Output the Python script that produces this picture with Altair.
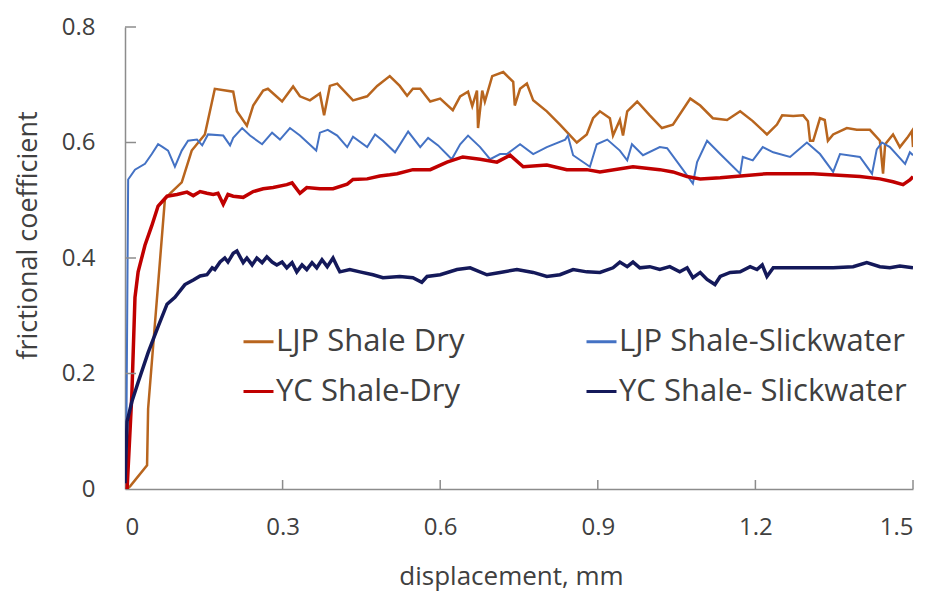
import altair as alt
import pandas as pd

# ---------------- data ----------------
series_names = ["LJP Shale Dry", "LJP Shale-Slickwater", "YC Shale-Dry", "YC Shale- Slickwater"]
series_colors = ["#B8651E", "#4472C4", "#C00000", "#14195A"]
series_widths = [2.5, 2.0, 3.5, 3.5]
# legend is filled column by column: first column holds the two "Dry" entries
legend_order = [0, 2, 1, 3]

ljp_dry_x = [0.004, 0.010, 0.042, 0.044, 0.076, 0.086, 0.108, 0.127, 0.152, 0.171,
             0.206, 0.213, 0.232, 0.244, 0.263, 0.272, 0.299, 0.320, 0.333, 0.352,
             0.371, 0.379, 0.390, 0.404, 0.434, 0.461, 0.480, 0.504, 0.523, 0.537,
             0.548, 0.562, 0.581, 0.600, 0.624, 0.638, 0.653, 0.661, 0.670, 0.672,
             0.680, 0.685, 0.699, 0.720, 0.739, 0.742, 0.752, 0.765, 0.777, 0.803,
             0.828, 0.860, 0.879, 0.891, 0.904, 0.923, 0.929, 0.942, 0.948, 0.956,
             0.975, 0.999, 1.022, 1.043, 1.076, 1.095, 1.119, 1.146, 1.171, 1.195,
             1.222, 1.241, 1.251, 1.272, 1.291, 1.300, 1.304, 1.310, 1.323, 1.332,
             1.338, 1.348, 1.374, 1.393, 1.418, 1.437, 1.443, 1.447, 1.462, 1.475,
             1.489, 1.498, 1.500]
ljp_dry_y = [0.000, 0.005, 0.041, 0.139, 0.502, 0.512, 0.531, 0.586, 0.614, 0.693,
             0.688, 0.654, 0.629, 0.664, 0.690, 0.693, 0.671, 0.697, 0.680, 0.673,
             0.685, 0.647, 0.698, 0.702, 0.673, 0.680, 0.698, 0.715, 0.698, 0.681,
             0.693, 0.693, 0.671, 0.676, 0.656, 0.680, 0.688, 0.663, 0.690, 0.625,
             0.690, 0.671, 0.715, 0.722, 0.705, 0.664, 0.693, 0.702, 0.673, 0.654,
             0.631, 0.600, 0.614, 0.642, 0.654, 0.642, 0.612, 0.639, 0.612, 0.654,
             0.671, 0.647, 0.625, 0.631, 0.676, 0.664, 0.642, 0.639, 0.654, 0.637,
             0.614, 0.631, 0.647, 0.646, 0.647, 0.637, 0.603, 0.603, 0.642, 0.639,
             0.603, 0.614, 0.625, 0.622, 0.622, 0.603, 0.546, 0.597, 0.614, 0.592,
             0.608, 0.620, 0.592]

ljp_slick_x = [0.002, 0.006, 0.019, 0.038, 0.051, 0.063, 0.072, 0.082, 0.095, 0.108,
               0.120, 0.137, 0.147, 0.158, 0.187, 0.200, 0.206, 0.223, 0.238, 0.261,
               0.280, 0.295, 0.314, 0.333, 0.364, 0.371, 0.386, 0.404, 0.423, 0.434,
               0.461, 0.476, 0.491, 0.514, 0.539, 0.562, 0.577, 0.596, 0.622, 0.638,
               0.653, 0.676, 0.695, 0.714, 0.727, 0.752, 0.777, 0.803, 0.838, 0.843,
               0.853, 0.885, 0.898, 0.918, 0.942, 0.956, 0.965, 0.986, 1.018, 1.032,
               1.062, 1.081, 1.089, 1.108, 1.133, 1.171, 1.176, 1.195, 1.214, 1.234,
               1.266, 1.298, 1.323, 1.348, 1.361, 1.399, 1.422, 1.431, 1.441, 1.456,
               1.485, 1.494, 1.500]
ljp_slick_y = [0.010, 0.536, 0.553, 0.563, 0.580, 0.597, 0.592, 0.586, 0.558, 0.586,
               0.603, 0.605, 0.595, 0.614, 0.612, 0.595, 0.608, 0.625, 0.612, 0.597,
               0.617, 0.605, 0.625, 0.612, 0.586, 0.617, 0.622, 0.612, 0.592, 0.610,
               0.592, 0.614, 0.603, 0.583, 0.619, 0.592, 0.608, 0.595, 0.571, 0.597,
               0.612, 0.592, 0.571, 0.580, 0.580, 0.597, 0.580, 0.592, 0.605, 0.612,
               0.578, 0.558, 0.597, 0.605, 0.586, 0.569, 0.597, 0.578, 0.592, 0.590,
               0.553, 0.529, 0.566, 0.603, 0.580, 0.546, 0.575, 0.569, 0.592, 0.583,
               0.575, 0.600, 0.580, 0.549, 0.580, 0.575, 0.546, 0.588, 0.600, 0.592,
               0.563, 0.583, 0.578]

yc_dry_x = [0.004, 0.013, 0.019, 0.025, 0.038, 0.051, 0.063, 0.080, 0.099, 0.118,
            0.130, 0.143, 0.156, 0.168, 0.177, 0.187, 0.196, 0.206, 0.225, 0.244,
            0.263, 0.282, 0.308, 0.318, 0.333, 0.346, 0.371, 0.396, 0.423, 0.434,
            0.461, 0.485, 0.504, 0.518, 0.548, 0.581, 0.613, 0.643, 0.676, 0.708,
            0.733, 0.758, 0.803, 0.841, 0.879, 0.904, 0.967, 1.018, 1.043, 1.070,
            1.095, 1.133, 1.222, 1.310, 1.399, 1.437, 1.462, 1.481, 1.494, 1.500]
yc_dry_y = [0.000, 0.163, 0.332, 0.376, 0.422, 0.456, 0.490, 0.507, 0.510, 0.514,
            0.508, 0.515, 0.512, 0.510, 0.512, 0.493, 0.510, 0.507, 0.505, 0.515,
            0.520, 0.522, 0.527, 0.530, 0.512, 0.522, 0.520, 0.520, 0.528, 0.536,
            0.537, 0.542, 0.544, 0.546, 0.553, 0.553, 0.566, 0.575, 0.571, 0.566,
            0.578, 0.558, 0.561, 0.553, 0.553, 0.549, 0.558, 0.553, 0.549, 0.541,
            0.537, 0.539, 0.546, 0.546, 0.541, 0.537, 0.532, 0.527, 0.535, 0.541]

yc_slick_x = [0.000, 0.004, 0.013, 0.025, 0.044, 0.063, 0.080, 0.095, 0.114, 0.130,
              0.143, 0.156, 0.166, 0.171, 0.181, 0.190, 0.196, 0.206, 0.213, 0.219,
              0.225, 0.232, 0.242, 0.251, 0.261, 0.270, 0.280, 0.289, 0.299, 0.308,
              0.318, 0.327, 0.337, 0.346, 0.356, 0.365, 0.375, 0.385, 0.396, 0.404,
              0.409, 0.428, 0.447, 0.472, 0.491, 0.523, 0.548, 0.565, 0.575, 0.600,
              0.632, 0.657, 0.689, 0.714, 0.746, 0.777, 0.803, 0.828, 0.853, 0.879,
              0.904, 0.929, 0.942, 0.956, 0.967, 0.980, 0.999, 1.018, 1.037, 1.056,
              1.070, 1.081, 1.095, 1.108, 1.123, 1.133, 1.152, 1.171, 1.190, 1.203,
              1.213, 1.222, 1.234, 1.285, 1.348, 1.386, 1.412, 1.437, 1.456, 1.475,
              1.500]
yc_slick_y = [0.010, 0.117, 0.151, 0.185, 0.236, 0.281, 0.320, 0.332, 0.354, 0.362,
              0.369, 0.371, 0.383, 0.380, 0.393, 0.400, 0.393, 0.408, 0.412, 0.402,
              0.392, 0.400, 0.388, 0.400, 0.392, 0.402, 0.393, 0.388, 0.393, 0.383,
              0.392, 0.376, 0.388, 0.380, 0.392, 0.383, 0.397, 0.385, 0.400, 0.385,
              0.376, 0.380, 0.376, 0.371, 0.366, 0.368, 0.366, 0.358, 0.368, 0.371,
              0.380, 0.383, 0.371, 0.375, 0.380, 0.375, 0.368, 0.371, 0.380, 0.376,
              0.375, 0.383, 0.393, 0.385, 0.393, 0.383, 0.385, 0.380, 0.385, 0.376,
              0.383, 0.366, 0.375, 0.363, 0.354, 0.368, 0.375, 0.376, 0.385, 0.380,
              0.388, 0.368, 0.383, 0.383, 0.383, 0.385, 0.392, 0.385, 0.383, 0.386,
              0.383]

x_tick_labels = [0, 0.3, 0.6, 0.9, 1.2, 1.5]
y_tick_labels = [0, 0.2, 0.4, 0.6, 0.8]
x_tick_marks = [0.3, 0.6, 0.9, 1.2, 1.5]
y_tick_marks = [0.2, 0.4, 0.6, 0.8]

# ---------------- build table ----------------
all_series = [
    (series_names[0], ljp_dry_x, ljp_dry_y),
    (series_names[1], ljp_slick_x, ljp_slick_y),
    (series_names[2], yc_dry_x, yc_dry_y),
    (series_names[3], yc_slick_x, yc_slick_y),
]
rows = []
for name, xs, ys in all_series:
    assert len(xs) == len(ys), name
    for i, (xv, yv) in enumerate(zip(xs, ys)):
        rows.append({"series": name, "d": xv, "f": yv, "i": i})
df = pd.DataFrame(rows)

TEXT = "#404040"
AXIS_GRAY = "#8c8c8c"
FONT = "Open Sans"
PAD_TOP = 19
PLOT_H = 462

x_enc = alt.X(
    "d:Q",
    scale=alt.Scale(domain=[0, 1.5], nice=False),
    axis=alt.Axis(values=x_tick_labels, format=".1~f", title="displacement, mm",
                  labelPadding=26, titlePadding=24, titleFontSize=26, titleX=386),
)
y_enc = alt.Y(
    "f:Q",
    scale=alt.Scale(domain=[0, 0.8], nice=False),
    axis=alt.Axis(values=y_tick_labels, format=".1~f", title="frictional coefficient",
                  labelPadding=30, titlePadding=19, titleFontSize=27, titleY=208),
)
color_enc = alt.Color(
    "series:N",
    scale=alt.Scale(domain=[series_names[k] for k in legend_order],
                    range=[series_colors[k] for k in legend_order]),
    legend=alt.Legend(
        title=None, orient="none", legendX=117, legendY=298, columns=2,
        columnPadding=115, rowPadding=18, symbolType="stroke", symbolSize=900,
        symbolStrokeWidth=3, labelFont=FONT, labelFontSize=31, labelColor=TEXT,
        labelOffset=1, padding=0, labelLimit=500,
    ),
)

base = alt.Chart(df).encode(x=x_enc, y=y_enc, color=color_enc, order="i:Q")
layers = [
    base.transform_filter(alt.datum.series == name).mark_line(strokeWidth=w, clip=True)
    for name, w in zip(series_names, series_widths)
]

xt = alt.Chart(pd.DataFrame({"d": x_tick_marks})).mark_rule(
    color=AXIS_GRAY, strokeWidth=1.5
).encode(x=x_enc, y=alt.value(PLOT_H), y2=alt.value(PLOT_H - 9))
yt = alt.Chart(pd.DataFrame({"f": y_tick_marks})).mark_rule(
    color=AXIS_GRAY, strokeWidth=1.5
).encode(y=y_enc, x=alt.value(0), x2=alt.value(11))

chart = (
    alt.layer(*layers, xt, yt)
    .properties(
        width=788, height=PLOT_H,
        autosize=alt.AutoSizeParams(type="none"),
        padding={"left": 117, "top": PAD_TOP, "right": 16, "bottom": 103},
    )
    .configure_view(stroke=None)
    .configure_axis(
        grid=False, ticks=False, domainColor=AXIS_GRAY, domainWidth=1.5,
        labelFont=FONT, labelFontSize=24, labelColor=TEXT,
        titleFont=FONT, titleFontWeight="normal", titleColor=TEXT,
    )
)

chart.save("out.html", embed_options={"renderer": "svg", "actions": False})
